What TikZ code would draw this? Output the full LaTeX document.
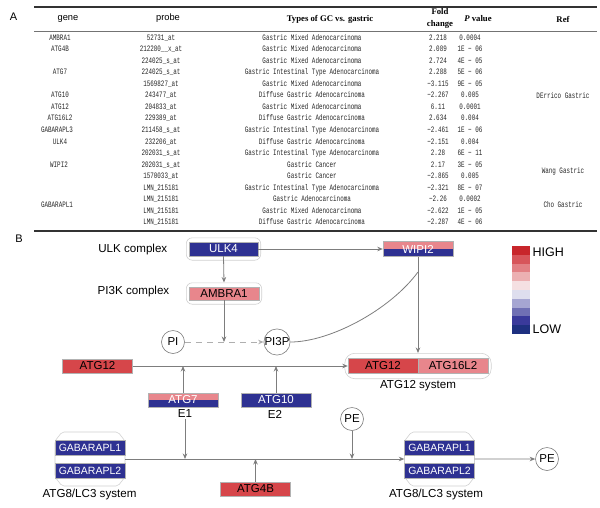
\documentclass[tikz,border=0pt]{standalone}
\usepackage{fontspec}
\setsansfont{Liberation Sans}
\newfontfamily\hdserif{Liberation Serif}
\newfontfamily\tabfont{Liberation Mono}[FakeStretch=0.71]
\usetikzlibrary{arrows.meta,fit,calc}
\definecolor{dblue}{RGB}{46,49,146}
\definecolor{lpink}{RGB}{232,134,140}
\definecolor{lred}{RGB}{214,70,74}
\definecolor{grpc}{RGB}{208,208,208}
\definecolor{cgray}{RGB}{125,125,125}
\definecolor{dgray}{RGB}{175,175,175}
\definecolor{lg1}{RGB}{200,38,43}
\definecolor{lg2}{RGB}{215,85,90}
\definecolor{lg3}{RGB}{226,128,132}
\definecolor{lg4}{RGB}{236,176,178}
\definecolor{lg5}{RGB}{245,224,226}
\definecolor{lg6}{RGB}{222,222,238}
\definecolor{lg7}{RGB}{166,166,210}
\definecolor{lg8}{RGB}{112,112,180}
\definecolor{lg9}{RGB}{58,58,155}
\definecolor{lg10}{RGB}{30,48,128}
\begin{document}
\begin{tikzpicture}[x=1pt,y=-1pt,
  cell/.style={font=\tabfont\fontsize{8.3}{8.3}\selectfont, text=black!85, inner sep=0.5pt, text height=5.5pt, text depth=1.5pt},
  hd/.style={font=\hdserif\bfseries\fontsize{8.7}{12}\selectfont, align=center, inner sep=0.5pt},
  hds/.style={font=\sffamily\fontsize{9.3}{10}\selectfont, inner sep=0.5pt},
  panel/.style={font=\sffamily\fontsize{11}{11}\selectfont, inner sep=0},
  gbox/.style={minimum width=70pt, minimum height=14pt, inner sep=0, draw=black!30, line width=0.4pt, font=\sffamily\fontsize{11.5}{11.5}\selectfont},
  bluebox/.style={gbox, fill=dblue, text=white},
  pinkbox/.style={gbox, fill=lpink},
  redbox/.style={gbox, fill=lred},
  splitbox/.style={gbox, text=white, path picture={
     \fill[lpink] (path picture bounding box.north west) rectangle (path picture bounding box.east);
     \fill[dblue] (path picture bounding box.west) rectangle (path picture bounding box.south east);}},
  mol/.style={circle, draw=cgray, line width=0.6pt, minimum size=23pt, inner sep=0, fill=white, font=\sffamily\fontsize{11.5}{11.5}\selectfont},
  lbl/.style={font=\sffamily\fontsize{11.6}{12}\selectfont, inner sep=0.5pt},
  grp/.style={draw=grpc, line width=0.6pt, rounded corners=6pt, inner xsep=2.5pt, inner ysep=4pt},
  conn/.style={draw=cgray, line width=0.8pt, -{Stealth[length=5.5pt,width=4.5pt]}},
  plain/.style={draw=cgray, line width=0.8pt}
]
\useasboundingbox (0,0) rectangle (600,507);
% ---------------- panel A ----------------
\node[panel] (labA) at (13.5,16.5) {A};
\draw[line width=1.6pt, black!80] (34,7) -- (597,7);
\draw[line width=0.8pt, black!55] (34,31) -- (597,31);
\draw[line width=1.4pt, black!80] (34,231) -- (597,231);
\node[hds] (hgene) at (68,18.5) {gene};
\node[hds] (hprobe) at (168,18.5) {probe};
\node[hd] (htype) at (330,19) {Types of GC vs. gastric};
\node[hd] (hfold) at (440,18.5) {Fold\\change};
\node[hd] (hp) at (478,19) {\textit{P} value};
\node[hd] (href) at (563,19) {Ref};
\foreach \p/\t/\f/\v [count=\i] in {
 52731\_at/Gastric Mixed Adenocarcinoma/2.218/0.0004,
 212280\_\_x\_at/Gastric Mixed Adenocarcinoma/2.089/1E − 06,
 224025\_s\_at/Gastric Mixed Adenocarcinoma/2.724/4E − 05,
 224025\_s\_at/Gastric Intestinal Type Adenocarcinoma/2.288/5E − 06,
 1569827\_at/Gastric Mixed Adenocarcinoma/−3.115/9E − 05,
 243477\_at/Diffuse Gastric Adenocarcinoma/−2.267/0.005,
 204833\_at/Gastric Mixed Adenocarcinoma/6.11/0.0001,
 229389\_at/Diffuse Gastric Adenocarcinoma/2.634/0.004,
 211458\_s\_at/Gastric Intestinal Type Adenocarcinoma/−2.461/1E − 06,
 232206\_at/Diffuse Gastric Adenocarcinoma/−2.151/0.004,
 202031\_s\_at/Gastric Intestinal Type Adenocarcinoma/2.28/6E − 11,
 202031\_s\_at/Gastric Cancer/2.17/3E − 05,
 1570033\_at/Gastric Cancer/−2.865/0.005,
 LMN\_215181/Gastric Intestinal Type Adenocarcinoma/−2.321/8E − 07,
 LMN\_215181/Gastric Adenocarcinoma/−2.26/0.0002,
 LMN\_215181/Gastric Mixed Adenocarcinoma/−2.622/1E − 05,
 LMN\_215181/Diffuse Gastric Adenocarcinoma/−2.287/4E − 06}
{
 \pgfmathsetmacro\yy{38+(\i-1)*11.56}
 \node[cell] (p\i) at (161,\yy) {\p};
 \node[cell] (t\i) at (312,\yy) {\t};
 \node[cell] (f\i) at (438,\yy) {\f};
 \node[cell] (v\i) at (470,\yy) {\v};
}
\node[cell] (g1) at (60,38) {AMBRA1};
\node[cell] (g2) at (60,49.56) {ATG4B};
\node[cell] (g4) at (60,72.68) {ATG7};
\node[cell] (g6) at (60,95.8) {ATG10};
\node[cell] (g7) at (60,107.36) {ATG12};
\node[cell] (g8) at (60,118.92) {ATG16L2};
\node[cell] (g9) at (57,130.48) {GABARAPL3};
\node[cell] (g10) at (60,142.04) {ULK4};
\node[cell] (g12) at (59,165.16) {WIPI2};
\node[cell] (g15) at (57,205.6) {GABARAPL1};
\node[cell] (r1) at (563,96.5) {DErrico Gastric};
\node[cell] (r2) at (563,171) {Wang Gastric};
\node[cell] (r3) at (563,205.6) {Cho Gastric};
% ---------------- panel B ----------------
\node[panel] (labB) at (19,239) {B};
% legend
\foreach \c [count=\k] in {lg1,lg2,lg3,lg4,lg5,lg6,lg7,lg8,lg9,lg10}
  \fill[\c] (512,{246+(\k-1)*8.8}) rectangle (530,{246+\k*8.8});
\node[lbl, font=\sffamily\fontsize{12.5}{12.5}\selectfont, anchor=west] (high) at (532,252) {HIGH};
\node[lbl, font=\sffamily\fontsize{12.5}{12.5}\selectfont, anchor=west] (low) at (532,329) {LOW};
% nodes
\node[bluebox, minimum width=69pt] (ulk4) at (223.5,249) {ULK4};
\node[grp, fit=(ulk4)] (ulkg) {};
\node[lbl, anchor=east] (ulkl) at (168,249) {ULK complex};
\node[splitbox, minimum height=15pt] (wipi2) at (418,249) {WIPI2};
\node[pinkbox, minimum height=13pt] (ambra1) at (224,293.5) {AMBRA1};
\node[grp, fit=(ambra1)] (ambg) {};
\node[lbl, anchor=east] (pi3kl) at (170,291) {PI3K complex};
\node[mol] (pi) at (173,342) {PI};
\node[mol] (pi3p) at (277,342) {PI3P};
\node[redbox] (atg12) at (97.5,366) {ATG12};
\node[redbox, minimum height=15pt] (atg12s) at (383,366) {ATG12};
\node[pinkbox, minimum height=15pt] (atg16) at (453,366) {ATG16L2};
\node[grp, rounded corners=10pt, inner xsep=3pt, inner ysep=5pt, fit=(atg12s)(atg16)] (atg12g) {};
\node[lbl] (atg12sl) at (418,386) {ATG12 system};
\node[splitbox] (atg7) at (183,400) {ATG7};
\node[lbl] (e1) at (185,414) {E1};
\node[bluebox] (atg10) at (276,400) {ATG10};
\node[lbl] (e2) at (275,414) {E2};
\node[mol] (pe1) at (352,419) {PE};
% GABARAPL groups
\draw[grpc, line width=0.6pt, rounded corners=2pt] (55,441) -- (62,432) -- (118,432) -- (125,441) -- (125,477) -- (118,486) -- (62,486) -- (55,477) -- cycle;
\draw[grpc, line width=0.6pt, rounded corners=2pt] (404.5,441) -- (411.5,432) -- (467.5,432) -- (474.5,441) -- (474.5,477) -- (467.5,486) -- (411.5,486) -- (404.5,477) -- cycle;
\node[bluebox, minimum height=15pt, font=\sffamily\fontsize{10.5}{10.5}\selectfont] (gl1a) at (90,447.5) {GABARAPL1};
\node[bluebox, minimum height=15pt, font=\sffamily\fontsize{10.5}{10.5}\selectfont] (gl2a) at (90,470.5) {GABARAPL2};
\node[bluebox, minimum height=15pt, font=\sffamily\fontsize{10.5}{10.5}\selectfont] (gl1b) at (439.5,447.5) {GABARAPL1};
\node[bluebox, minimum height=15pt, font=\sffamily\fontsize{10.5}{10.5}\selectfont] (gl2b) at (439.5,470.5) {GABARAPL2};
\node[lbl] (lc3a) at (89.5,494) {ATG8/LC3 system};
\node[lbl] (lc3b) at (436,494) {ATG8/LC3 system};
\node[redbox] (atg4b) at (255.5,489) {ATG4B};
\node[mol] (pe2) at (547,459) {PE};
\coordinate (la) at ($(gl1a.south east)!0.5!(gl2a.north east)$);
\coordinate (lb) at ($(gl1b.south west)!0.5!(gl2b.north west)$);
\coordinate (lc) at ($(gl1b.south east)!0.5!(gl2b.north east)$);
\coordinate (cj) at (418,272);
% connectors
\draw[conn] (ulk4.east) -- (wipi2.west);
\draw[conn] (ulk4.south) -- (ambg.north);
\draw[conn] (ambra1.south) -- (ambra1.south |- pi.center);
\draw[conn, draw=dgray, dash pattern=on 6pt off 5pt] (pi.east) -- (pi3p.west);
\draw[plain] (pi3p.east) .. controls (330,342) and (390,310) .. (cj);
\draw[conn] (wipi2.south) -- (atg12g.north);
\draw[conn] (atg12.east) -- (atg12s.west);
\draw[conn] (atg7.north) -- (atg7.north |- atg12.east);
\draw[conn] (atg10.north) -- (atg10.north |- atg12.east);
\draw[conn] (la) -- (lb);
\draw[conn] (e1.south) -- (e1.south |- la);
\draw[conn] (pe1.south) -- (pe1.south |- la);
\draw[conn] (atg4b.north) -- (atg4b.north |- la);
\draw[conn] (lc) -- (pe2.west);
\end{tikzpicture}
\end{document}
